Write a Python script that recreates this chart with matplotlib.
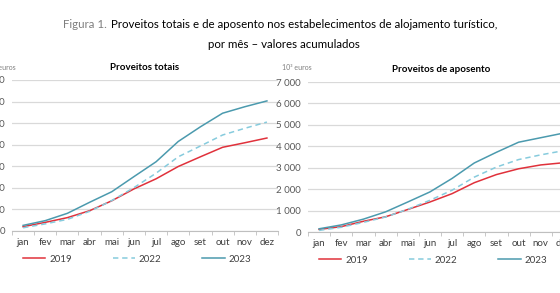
import numpy as np
import matplotlib.pyplot as plt
from matplotlib.ticker import FuncFormatter, FixedLocator

plt.rcParams['font.family'] = ['Lato', 'DejaVu Sans']

# dados (10^6 euros, valores acumulados)
meses = ['jan', 'fev', 'mar', 'abr', 'mai', 'jun', 'jul', 'ago', 'set', 'out', 'nov', 'dez']
anos = ['2019', '2022', '2023']

totais_2019 = [200, 400, 620, 940, 1400, 1950, 2420, 2990, 3440, 3880, 4090, 4310]
totais_2022 = [150, 330, 540, 910, 1410, 2010, 2680, 3440, 3940, 4450, 4760, 5050]
totais_2023 = [260, 480, 820, 1330, 1820, 2520, 3210, 4150, 4830, 5460, 5760, 6030]

aposento_2019 = [120, 250, 500, 710, 1050, 1400, 1790, 2300, 2680, 2950, 3130, 3230]
aposento_2022 = [75, 220, 450, 700, 1060, 1480, 1950, 2560, 3030, 3380, 3600, 3790]
aposento_2023 = [150, 330, 600, 940, 1400, 1870, 2500, 3220, 3720, 4190, 4400, 4610]

cores = {'2019': '#E0313B', '2022': '#86CBDD', '2023': '#4B9AAE'}
estilos = {'2019': '-', '2022': (0, (3.5, 2.5)), '2023': '-'}

W, H = 560, 293


def milhares(v, pos):
    return f'{int(v):,}'.replace(',', ' ')


def painel(ax, titulo, series):
    x = np.arange(len(meses))
    for ano, vals in zip(anos, series):
        ax.plot(x, vals, color=cores[ano], linestyle=estilos[ano], lw=1.1, label=ano)
    ax.set_xlim(-0.5, 11.5)
    ax.set_ylim(0, 7000)
    ax.set_yticks(np.arange(0, 7001, 1000))
    ax.yaxis.set_major_formatter(FuncFormatter(milhares))
    ax.grid(axis='y', color='#d9d9d9', lw=0.9)
    ax.set_axisbelow(True)
    for s in ['top', 'right', 'left']:
        ax.spines[s].set_visible(False)
    ax.spines['bottom'].set_color('#bfbfbf')
    ax.tick_params(axis='y', length=0, pad=5, labelsize=7, labelcolor='#595959')
    ax.set_xticks(x)
    ax.set_xticklabels(meses)
    ax.xaxis.set_minor_locator(FixedLocator(np.arange(-0.5, 12, 1)))
    ax.tick_params(axis='x', which='major', length=0, pad=5, labelsize=7, labelcolor='#404040')
    ax.tick_params(axis='x', which='minor', length=3, color='#bfbfbf', direction='out')
    ax.set_title(titulo, fontsize=7, fontweight='bold', pad=7)
    ax.legend(ncol=3, loc='upper center', bbox_to_anchor=(0.47, -0.1), frameon=False,
              fontsize=7, handlelength=2.3, handletextpad=0.4, columnspacing=4.2,
              labelcolor='#404040')


fig = plt.figure(figsize=(W / 100, H / 100), dpi=100)
ax1 = fig.add_axes([12 / W, 62 / H, 266 / W, 151 / H])
ax2 = fig.add_axes([308 / W, 61 / H, 266 / W, 150 / H])

painel(ax1, 'Proveitos totais', [totais_2019, totais_2022, totais_2023])
painel(ax2, 'Proveitos de aposento', [aposento_2019, aposento_2022, aposento_2023])

# unidade no canto superior esquerdo de cada painel
fig.text(-14 / W, 1 - 68 / H, '10³ euros', fontsize=5, color='#7f7f7f', va='center')
fig.text(282 / W, 1 - 68 / H, '10³ euros', fontsize=5, color='#7f7f7f', va='center')

# título: ajusta o tamanho para ocupar de x=63 a x=500
linha1 = 'Proveitos totais e de aposento nos estabelecimentos de alojamento turístico,'
fs = 10.5
r = fig.canvas.get_renderer()
t1 = fig.text(63 / W, 1 - 25 / H, 'Figura 1.', fontsize=fs, color='#7f7f7f', va='center')
t2 = fig.text(0, 1 - 25 / H, linha1, fontsize=fs, color='black', va='center')
larg = t1.get_window_extent(r).width + 4 + t2.get_window_extent(r).width
fs = fs * 437 / larg
t1.set_fontsize(fs)
t2.set_fontsize(fs)
t2.set_x((63 + t1.get_window_extent(r).width + 4) / W)
fig.text(284 / W, 1 - 44 / H, 'por mês – valores acumulados', fontsize=fs, color='black',
         ha='center', va='center')

fig.savefig('out.png', dpi=100)
